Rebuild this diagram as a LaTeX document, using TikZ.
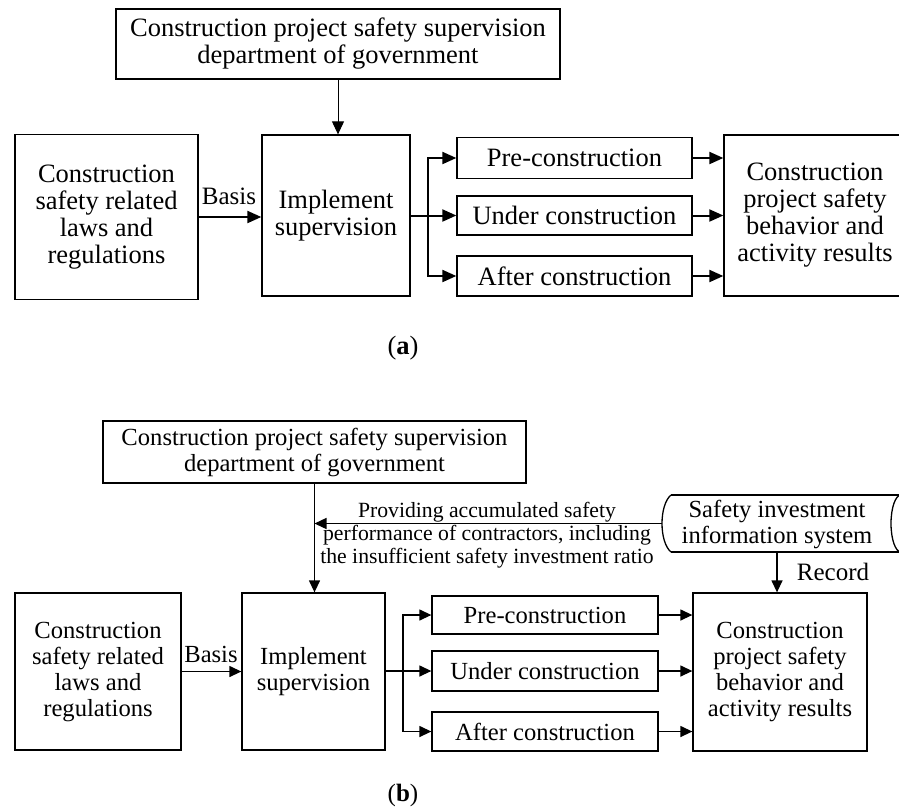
\documentclass[tikz,border=0pt]{standalone}
\usepackage{fontspec}
\setmainfont{Liberation Serif}
\usetikzlibrary{arrows.meta}

\begin{document}
\begin{tikzpicture}[x=1pt,y=-1pt,
  box/.style={draw, line width=1.3pt, inner sep=0pt, align=center},
  fa/.style={font=\fontsize{26.5}{27}\selectfont},
  fb/.style={font=\fontsize{24.6}{26}\selectfont},
  fc/.style={font=\fontsize{21.7}{23}\selectfont},
  arrA/.style={line width=2pt, -{Triangle[length=14pt,width=12pt]}},
  arrAthin/.style={line width=1pt, -{Triangle[length=13pt,width=12pt]}},
  arrB/.style={line width=1.3pt, -{Triangle[length=12pt,width=11pt]}},
  linkB/.style={line width=1.3pt}]

\useasboundingbox (0,0) rectangle (899,809);
\clip (0,0) rectangle (899,809);

% ---------- (a) ----------
\node[box, fa, minimum width=444pt, minimum height=70pt] (govA) at (338,44)
  {Construction project safety supervision\\department of government};
\node[box, fa, minimum width=183pt, minimum height=165pt] (lawA) at (106.5,217)
  {Construction\\safety related\\laws and\\regulations};
\node[box, fa, minimum width=148pt, minimum height=161pt] (implA) at (336,215.5)
  {Implement\\supervision};
\node[box, fa, minimum width=235pt, minimum height=41pt] (preA) at (574.5,158)
  {Pre-construction};
\node[box, fa, minimum width=235pt, minimum height=39pt] (underA) at (574.5,215.5)
  {Under construction};
\node[box, fa, minimum width=235pt, minimum height=40pt] (afterA) at (574.5,276)
  {After construction};
\node[box, fa, minimum width=182pt, minimum height=161pt] (resA) at (815,215.5)
  {Construction\\project safety\\behavior and\\activity results};
\node[fa, font=\fontsize{25}{27}\selectfont] (basisA) at (229,196) {Basis};
\node[fa] (capA) at (403,348) {(\textbf{a})};

\draw[arrAthin] (govA.south) -- (govA.south |- implA.north);
\draw[arrA] (lawA.east) -- (lawA.east -| implA.west);
\coordinate (jA) at (428,215.5);
\draw[arrA] (implA.east) -- (underA.west);
\draw[arrA] (implA.east) -- (jA) |- (preA.west);
\draw[arrA] (jA) |- (afterA.west);
\draw[arrA] (preA.east) -- (preA.east -| resA.west);
\draw[arrA] (underA.east) -- (underA.east -| resA.west);
\draw[arrA] (afterA.east) -- (afterA.east -| resA.west);

% ---------- (b) ----------
\node[box, fb, minimum width=423pt, minimum height=62pt] (govB) at (314.5,452)
  {Construction project safety supervision\\department of government};
\node[box, fb, minimum width=166pt, minimum height=157pt] (lawB) at (98,671.5)
  {Construction\\safety related\\laws and\\regulations};
\node[box, fb, minimum width=143pt, minimum height=157pt] (implB) at (313.5,671.5)
  {Implement\\supervision};
\node[box, fb, minimum width=226pt, minimum height=38pt] (preB) at (545,615)
  {Pre-construction};
\node[box, fb, minimum width=226pt, minimum height=40pt] (underB) at (545,671)
  {Under construction};
\node[box, fb, minimum width=226pt, minimum height=39pt] (afterB) at (545,731.5)
  {After construction};
\node[box, fb, minimum width=174pt, minimum height=158pt] (resB) at (780,672)
  {Construction\\project safety\\behavior and\\activity results};

% information system drawn as a horizontal cylinder
\draw[linkB] (671,495) -- (901,495);
\draw[linkB] (671,552) -- (901,552);
\draw[linkB] (671,495) .. controls (659,505) and (659,542) .. (671,552);
\draw[linkB] (901,523.5) ellipse [x radius=10, y radius=28.5];
\node[fb, align=center] (sis) at (777,524) {Safety investment\\information system};
\coordinate (sisW) at (662,523.5);
\coordinate (sisS) at (777,552);

\node[fc, align=center] (prov) at (487,535)
  {Providing accumulated safety\\performance of contractors, including\\the insufficient safety investment ratio};
\node[fb] (basisB) at (211,654) {Basis};
\node[fb, font=\fontsize{25}{26}\selectfont] (record) at (833,572) {Record};
\node[fb, font=\fontsize{25}{27}\selectfont] (capB) at (403,795) {(\textbf{b})};

\draw[arrB] (govB.south) -- (govB.south |- implB.north);
\draw[arrB] (sisW) -- (sisW -| govB.south);
\draw[arrB] (sisS) -- (sisS |- resB.north);
\draw[arrB] (lawB.east) -- (lawB.east -| implB.west);
\coordinate (jB) at (403,671);
\draw[arrB] (implB.east |- underB.west) -- (underB.west);
\draw[arrB] (jB) |- (preB.west);
\draw[arrB] (jB) |- (afterB.west);
\draw[arrB] (preB.east) -- (preB.east -| resB.west);
\draw[arrB] (underB.east) -- (underB.east -| resB.west);
\draw[arrB] (afterB.east) -- (afterB.east -| resB.west);

\end{tikzpicture}
\end{document}
